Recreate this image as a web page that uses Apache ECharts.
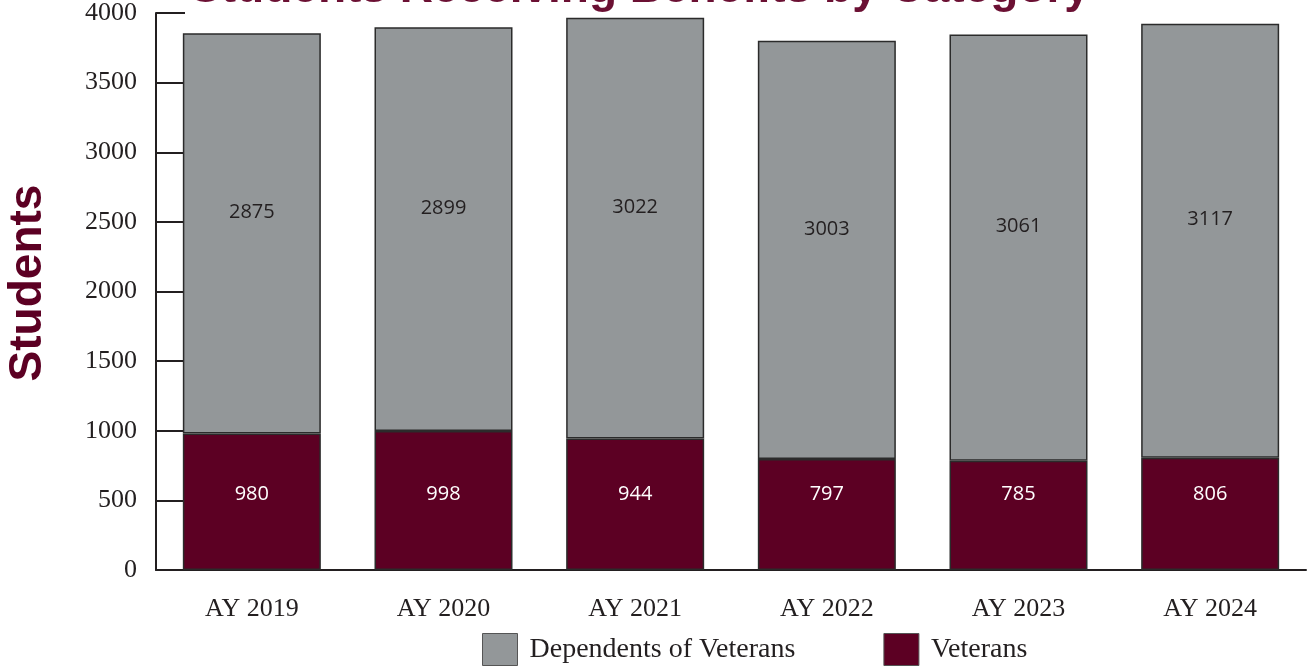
<!DOCTYPE html>
<html>
<head>
<meta charset="utf-8">
<script src="https://cdn.jsdelivr.net/npm/echarts@6/dist/echarts.min.js"></script>
<style>html,body{margin:0;padding:0;background:#fff}#c{width:1307px;height:666px}</style>
</head>
<body>
<div id="c"></div>
<script>
const categories = ['AY 2019', 'AY 2020', 'AY 2021', 'AY 2022', 'AY 2023', 'AY 2024'];
const veterans = [980, 998, 944, 797, 785, 806];
const dependents = [2875, 2899, 3022, 3003, 3061, 3117];
const yTicks = [0, 500, 1000, 1500, 2000, 2500, 3000, 3500, 4000];
const titleText = 'Students Receiving Benefits by Category';
const yName = 'Students';

const MAROON = '#5c0023';
const GRAY = '#939799';
const SERIF = '"Liberation Serif", "DejaVu Serif", serif';
const SANS = '"Open Sans", "Noto Sans", sans-serif';

const chart = echarts.init(document.getElementById('c'));
chart.setOption({
  animation: false,
  backgroundColor: '#fff',
  graphic: [
    { type: 'text', x: 640, y: 12, style: { text: titleText, font: 'bold 46px "Liberation Sans", Arial, sans-serif', fill: '#6b1033', textAlign: 'center', textVerticalAlign: 'bottom' } },
    { type: 'text', x: 28, y: 283, rotation: Math.PI / 2, style: { text: yName, font: 'bold 46px "Liberation Sans", Arial, sans-serif', fill: MAROON, textAlign: 'center', textVerticalAlign: 'middle' } }
  ],
  grid: { left: 156, right: 1, top: 10, bottom: 96, containLabel: false },
  legend: {
    top: 628, left: 477,
    itemWidth: 35, itemHeight: 32, itemGap: 88,
    icon: 'rect',
    data: [
      { name: 'Dependents of Veterans', itemStyle: { color: GRAY, borderColor: '#555', borderWidth: 1 } },
      { name: 'Veterans', itemStyle: { color: MAROON, borderColor: '#555', borderWidth: 1 } }
    ],
    textStyle: { fontFamily: SERIF, fontSize: 28, color: '#231f20', padding: [0, 0, 0, 7] }
  },
  xAxis: {
    type: 'category', data: categories,
    axisLine: { lineStyle: { color: '#231f20', width: 2 } },
    axisTick: { inside: true, length: 14, lineStyle: { color: '#231f20', width: 2 } },
    axisLabel: { fontFamily: SERIF, fontSize: 26, color: '#231f20', margin: 26 },
    splitLine: { show: false }
  },
  yAxis: {
    type: 'value', min: 0, max: 4000, interval: 500,
    axisLine: { show: true, lineStyle: { color: '#231f20', width: 2 } },
    axisTick: { show: true, inside: true, length: 29, lineStyle: { color: '#231f20', width: 2 } },
    axisLabel: { fontFamily: SERIF, fontSize: 26, color: '#231f20', margin: 19,
      formatter: v => yTicks.includes(v) ? String(v) : '' },
    splitLine: { show: false }
  },
  series: [
    {
      name: 'Veterans', type: 'bar', stack: 'total', data: veterans, barWidth: 138,
      itemStyle: { color: MAROON, borderColor: '#2b2b2b', borderWidth: 1.5 },
      label: { show: true, position: 'insideBottom', distance: 66, fontFamily: SANS, fontSize: 20, color: '#ffffff' }
    },
    {
      name: 'Dependents of Veterans', type: 'bar', stack: 'total', data: dependents, barWidth: 138,
      itemStyle: { color: GRAY, borderColor: '#2b2b2b', borderWidth: 1.5 },
      label: { show: true, position: 'inside', offset: [0, -21], fontFamily: SANS, fontSize: 20, color: '#231f20' }
    }
  ]
});
</script>
</body>
</html>
